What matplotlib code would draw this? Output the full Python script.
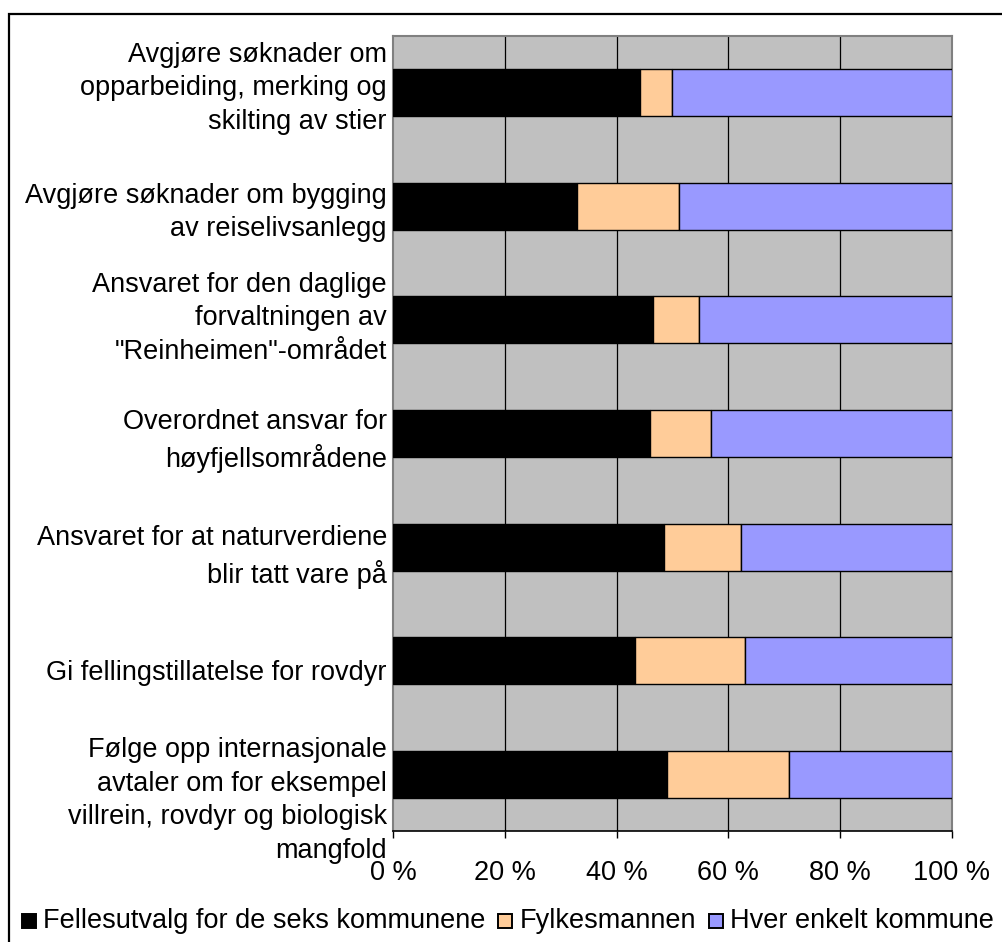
import matplotlib
matplotlib.use("Agg")
import matplotlib.pyplot as plt
from matplotlib.patches import Rectangle
from matplotlib.transforms import blended_transform_factory

plt.rcParams["font.family"] = ["Liberation Sans", "DejaVu Sans"]

# data (percent of answers)
categories = [
    "Avgjøre søknader om\nopparbeiding, merking og\nskilting av stier",
    "Avgjøre søknader om bygging\nav reiselivsanlegg",
    "Ansvaret for den daglige\nforvaltningen av\n\"Reinheimen\"-området",
    "Overordnet ansvar for\nhøyfjellsområdene",
    "Ansvaret for at naturverdiene\nblir tatt vare på",
    "Gi fellingstillatelse for rovdyr",
    "Følge opp internasjonale\navtaler om for eksempel\nvillrein, rovdyr og biologisk\nmangfold",
]
fellesutvalg = [44.1, 33.0, 46.6, 45.9, 48.4, 43.3, 49.1]
fylkesmannen = [5.9, 18.1, 8.1, 11.0, 13.8, 19.6, 21.7]
hver_kommune = [50.0, 48.9, 45.3, 43.1, 37.8, 37.1, 29.2]
series_names = ["Fellesutvalg for de seks kommunene", "Fylkesmannen", "Hver enkelt kommune"]
xticks = [0, 20, 40, 60, 80, 100]
xtick_labels = ["0 %", "20 %", "40 %", "60 %", "80 %", "100 %"]

colors = ["#000000", "#FFCC99", "#9999FF"]
# excel puts the category labels a bit off-centre
label_shift = [-0.04, 0.055, -0.015, 0.065, 0.085, 0.105, 0.23]

W, H = 1003, 942
FS = 19.5

fig = plt.figure(figsize=(W / 100, H / 100), dpi=100)
fig.patch.set_facecolor("white")

# outer chart frame (right/bottom edges fall outside the picture)
fig.patches.append(Rectangle((9 / W, -0.1), 1.2, (H - 14) / H + 0.1, transform=fig.transFigure,
                             fill=False, edgecolor="black", linewidth=1.6))

ax = fig.add_axes([393 / W, (H - 831) / H, (952 - 393) / W, (831 - 36) / H])
ax.set_facecolor("#C0C0C0")

ypos = list(range(len(categories)))
left = [0.0] * len(categories)
for vals, col in zip([fellesutvalg, fylkesmannen, hver_kommune], colors):
    ax.barh(ypos, vals, left=left, height=0.415, color=col, edgecolor="black", linewidth=1.0, zorder=3)
    left = [a + b for a, b in zip(left, vals)]

ax.set_xlim(0, 100)
ax.set_ylim(len(categories) - 0.5, -0.5)
ax.set_xticks(xticks)
ax.set_xticklabels(xtick_labels, fontsize=FS)
ax.set_yticks([])
ax.tick_params(axis="x", direction="out", length=5, width=1, color="black", pad=16)
for x in xticks[1:-1]:
    ax.axvline(x, color="black", linewidth=0.9, zorder=1)

for side in ["left", "top", "right"]:
    ax.spines[side].set_color("#808080")
    ax.spines[side].set_linewidth(1.5)
ax.spines["bottom"].set_color("black")
ax.spines["bottom"].set_linewidth(1.2)

trans = blended_transform_factory(fig.transFigure, ax.transData)
for i, (lab, sh) in enumerate(zip(categories, label_shift)):
    fig.text(387 / W, i + sh, lab, transform=trans, ha="right", va="center",
             fontsize=FS, linespacing=1.38, multialignment="right")

# legend along the bottom, drawn by hand like the excel one
fig.canvas.draw()
renderer = fig.canvas.get_renderer()
x = 22
ly = 921
for name, col in zip(series_names, colors):
    fig.patches.append(Rectangle((x / W, (H - ly - 7) / H), 14 / W, 14 / H, transform=fig.transFigure,
                                 facecolor=col, edgecolor="black", linewidth=1.4))
    t = fig.text((x + 21) / W, (H - ly) / H, name, ha="left", va="center", fontsize=FS)
    bb = t.get_window_extent(renderer)
    x = bb.x1 + 13

fig.savefig("out.png", dpi=100)
